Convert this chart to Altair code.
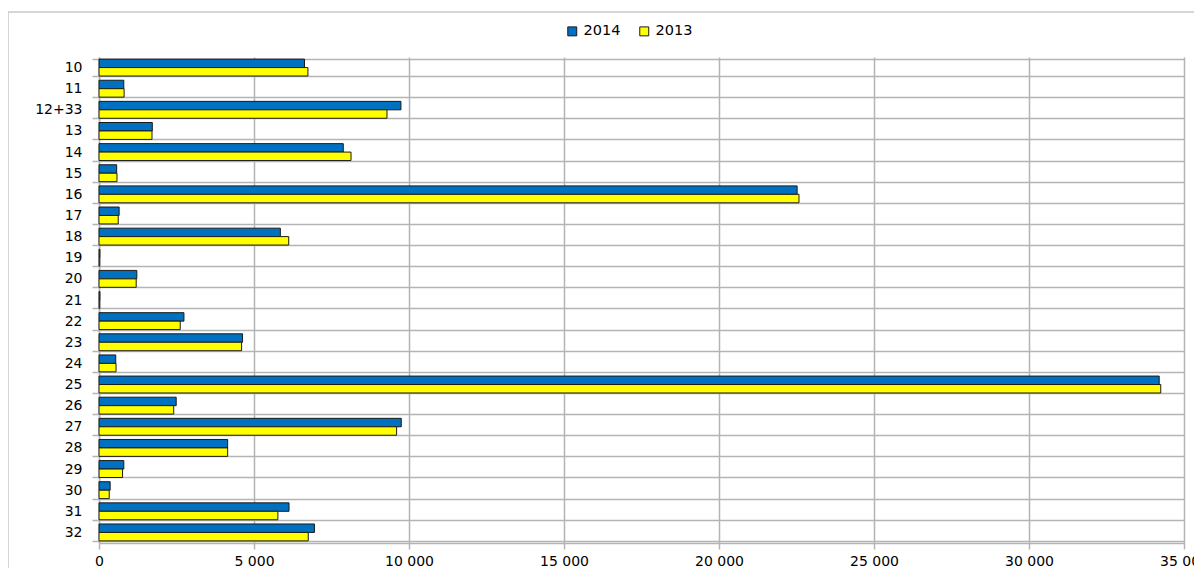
import altair as alt
import pandas as pd

categories = ["10", "11", "12+33", "13", "14", "15", "16", "17", "18", "19", "20", "21",
              "22", "23", "24", "25", "26", "27", "28", "29", "30", "31", "32"]
series_names = ["2014", "2013"]
values_2014 = [6630, 800, 9740, 1720, 7880, 570, 22520, 650, 5850, 30, 1220, 30,
               2740, 4630, 540, 34200, 2490, 9750, 4150, 800, 360, 6130, 6950]
values_2013 = [6740, 810, 9290, 1710, 8130, 580, 22580, 620, 6120, 25, 1200, 25,
               2620, 4600, 550, 34250, 2410, 9600, 4150, 760, 330, 5770, 6750]
colors = ["#0070C0", "#FFFF00"]

rows = []
for c, a, b in zip(categories, values_2014, values_2013):
    rows.append({"cat": c, "year": "2014", "value": a})
    rows.append({"cat": c, "year": "2013", "value": b})
df = pd.DataFrame(rows)

W, H = 1085, 486
GRID = "#b4b4b4"

bars = alt.Chart(df).mark_bar(stroke="#1a1a1a", strokeWidth=1).encode(
    y=alt.Y("cat:N", sort=categories, title=None,
            scale=alt.Scale(paddingInner=0.2, paddingOuter=0.1),
            axis=alt.Axis(grid=True, tickBand="extent", gridColor=GRID, gridWidth=1.5,
                          domainColor=GRID, domainWidth=1.5, tickColor=GRID, tickWidth=1.5,
                          tickSize=7, labelPadding=10, labelFont="DejaVu Sans",
                          labelFontSize=14, labelColor="#000000")),
    yOffset=alt.YOffset("year:N", sort=series_names),
    x=alt.X("value:Q", title=None,
            scale=alt.Scale(domain=[0, 35000], nice=False),
            axis=alt.Axis(values=[0, 5000, 10000, 15000, 20000, 25000, 30000, 35000],
                          labelExpr="replace(format(datum.value, ','), ',', ' ')",
                          gridColor=GRID, gridWidth=1.5, domainColor=GRID, domainWidth=1.5,
                          tickColor=GRID, tickWidth=1.5, tickSize=6, labelPadding=5,
                          labelFont="DejaVu Sans", labelFontSize=14, labelColor="#000000",
                          labelFlush=False)),
    color=alt.Color("year:N", sort=series_names,
                    scale=alt.Scale(domain=series_names, range=colors),
                    legend=alt.Legend(title=None, orient="none", legendX=466, legendY=-33,
                                      direction="horizontal", symbolType="square",
                                      symbolSize=80, symbolStrokeColor="#1a1a1a",
                                      symbolStrokeWidth=1, labelFont="DejaVu Sans",
                                      labelFontSize=14.5, labelColor="#000000",
                                      labelOffset=4, columnPadding=16)),
)

frame_df = pd.DataFrame({"k": [0]})
left_border = alt.Chart(frame_df).mark_rule(color="#c8c8c8", strokeWidth=1.5).encode(
    x=alt.value(-91), y=alt.value(-45), y2=alt.value(H + 80))
top_border = alt.Chart(frame_df).mark_rule(color="#c8c8c8", strokeWidth=1.5).encode(
    x=alt.value(-91), x2=alt.value(W + 80), y=alt.value(-45))

chart = alt.layer(left_border, top_border, bars).properties(
    width=W, height=H,
    autosize=alt.AutoSizeParams(type="none"),
    padding={"left": 91, "top": 49, "right": 10, "bottom": 25},
).configure_view(stroke=None)

chart.save("out.html", embed_options={"renderer": "svg", "actions": False})
